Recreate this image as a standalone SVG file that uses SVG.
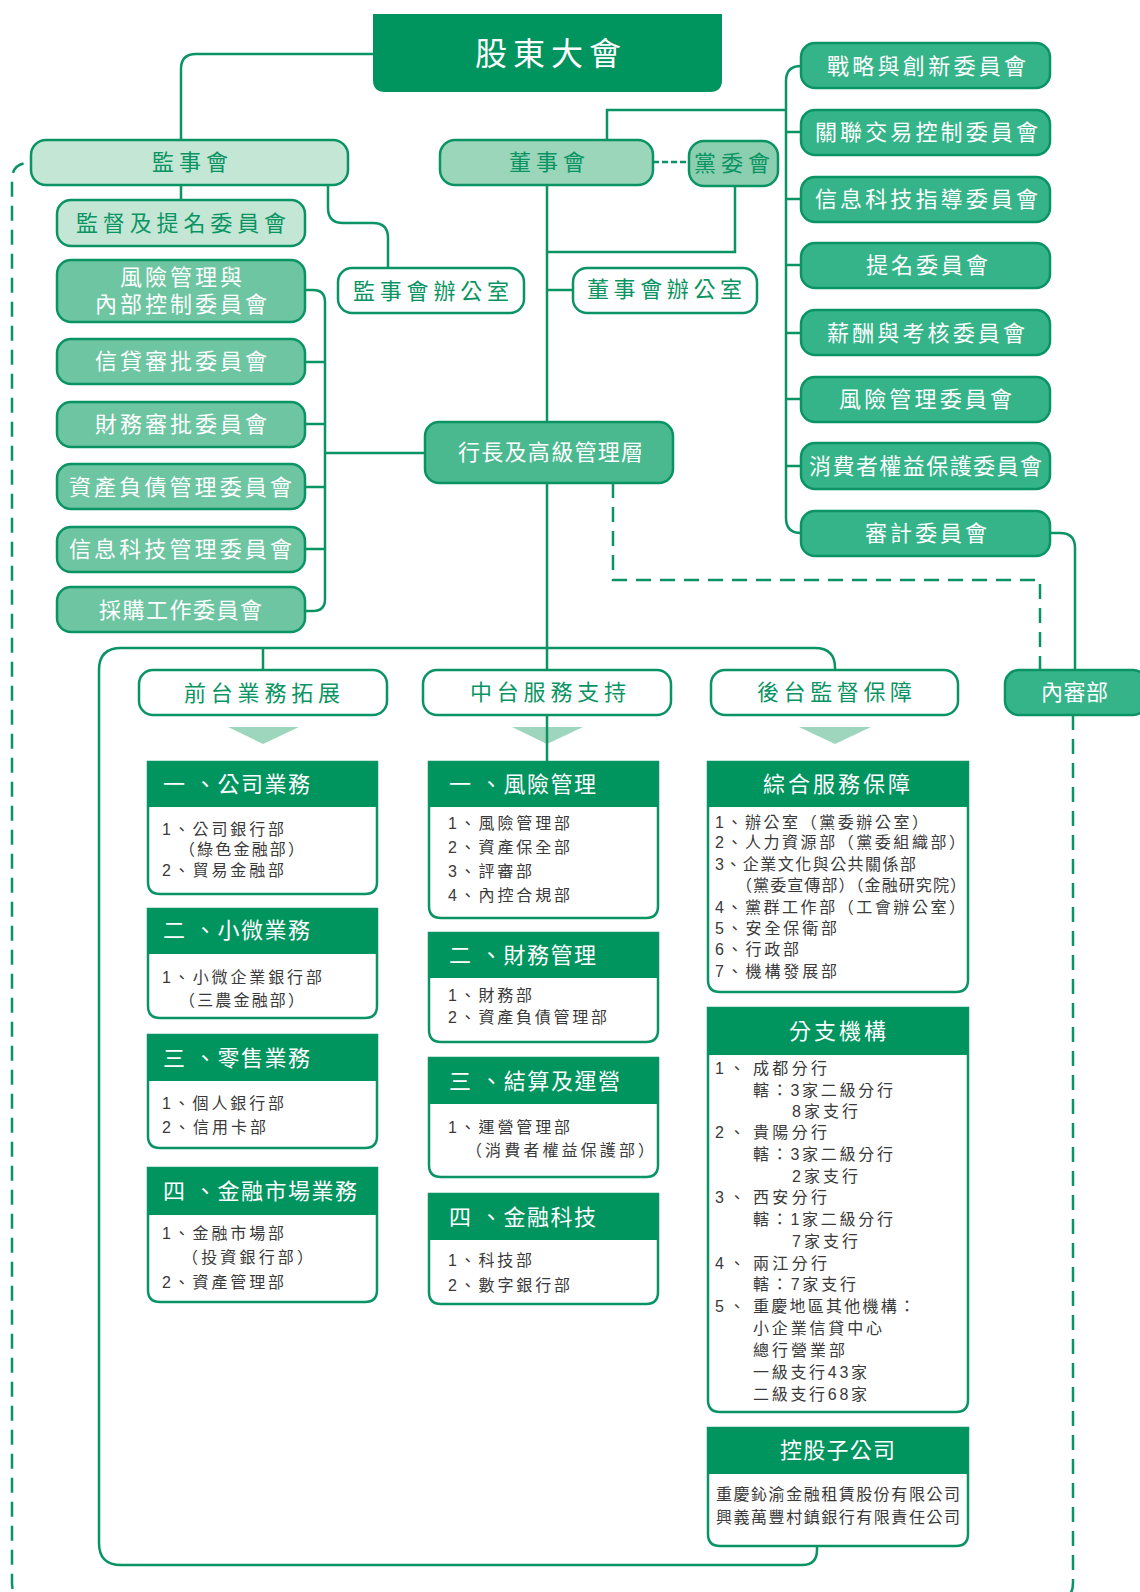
<svg xmlns="http://www.w3.org/2000/svg" width="1140" height="1592" viewBox="0 0 1140 1592">
<style>
text{font-family:'Liberation Sans','Noto Sans CJK TC',sans-serif;}
.ln{fill:none;stroke:#0a9463;stroke-width:2.5}
.dash{fill:none;stroke:#0a9463;stroke-width:2.5;stroke-dasharray:15 9}
.sdash{fill:none;stroke:#0a9463;stroke-width:2.5;stroke-dasharray:6 3}
.box{stroke:#0a9463;stroke-width:2.5}
.c1{fill:#c3e6d5}.c2{fill:#9bd5ba}.c3{fill:#8bcfb0}.c4{fill:#6dc5a2}.c5{fill:#4bb98f}.c6{fill:#35b489}.cw{fill:#fff}
.hd{fill:#00945f}
.tri{fill:#9dd6bd}
.tw{fill:#fff;font-size:22px}
.tg{fill:#0a9463;font-size:22px}
.b{fill:#3a3a3a;font-size:16px}
</style>

<!-- triangles -->
<g id="arrows">
<polygon class="tri" points="228,727 299,727 263,744"/>
<polygon class="tri" points="512,727 583,727 547,744"/>
<polygon class="tri" points="799,727 871,727 835,744"/>
</g>

<g id="connectors">
<path class="ln" d="M373,54 H196 Q181,54 181,69 V140"/>
<path class="ln" d="M181,185 V200"/>
<path class="ln" d="M328,185 V208 Q328,223 343,223 H373 Q388,223 388,238 V268"/>
<path class="ln" d="M607,140 V110 H786"/>
<path class="ln" d="M801,66 Q786,66 786,81 V518 Q786,533 801,533"/>
<path class="ln" d="M786,132 H801 M786,199 H801 M786,265 H801 M786,333 H801 M786,399 H801 M786,466 H801"/>
<path class="ln" d="M1050,533 H1060 Q1075,533 1075,548 V670"/>
<path class="sdash" d="M653,162 H689"/>
<path class="ln" d="M547,185 V422"/>
<path class="ln" d="M547,252 H735 V186"/>
<path class="ln" d="M547,290 H573"/>
<path class="ln" d="M305,290 H313 Q325,290 325,302 V599 Q325,611 313,611 H305"/>
<path class="ln" d="M305,362 H325 M305,424 H325 M305,487 H325 M305,549 H325"/>
<path class="ln" d="M325,453 H425"/>
<path class="ln" d="M547,483 V762"/>
<path class="ln" d="M817,1546 V1550 Q817,1565 802,1565 H121 Q99,1565 99,1543 V670 Q99,648 121,648 H815 Q835,648 835,668 V670"/>
<path class="ln" d="M263,648 V670"/>
<path class="dash" d="M613,483 V580 H1040 V670"/>
<path class="dash" d="M1073,715 V1583 Q1073,1600 1056,1600 H29 Q12,1600 12,1583 V180 Q12,163 29,163 H31"/>
</g>

<g id="n-gudong">
<path class="hd" d="M373,14 H722 V80 Q722,92 710,92 H385 Q373,92 373,80 Z"/>
<text x="475" y="64.5" fill="#fff" font-size="32" textLength="146">股東大會</text>
</g>
<g id="n-jianshihui">
<rect class="box c1" x="31" y="140" width="317" height="45" rx="15"/>
<text class="tg" x="152" y="170" textLength="76">監事會</text>
</g>
<g id="n-dongshihui">
<rect class="box c2" x="440" y="140" width="213" height="45" rx="15"/>
<text class="tg" x="509" y="170" textLength="76">董事會</text>
</g>
<g id="n-dangwei">
<rect class="box c3" x="689" y="141" width="89" height="45" rx="15"/>
<text class="tg" x="694" y="171" textLength="76">黨委會</text>
</g>
<g id="n-jiandu">
<rect class="box c1" x="57" y="200" width="248" height="46" rx="14"/>
<text class="tg" x="76" y="231" textLength="210">監督及提名委員會</text>
</g>
<g id="n-fengxian-nk">
<rect class="box c4" x="57" y="260" width="248" height="62" rx="14"/>
<text class="tw" x="120" y="285" textLength="122">風險管理與</text>
<text class="tw" x="95" y="312" textLength="172">內部控制委員會</text>
</g>
<g id="n-xindai">
<rect class="box c4" x="57" y="339" width="248" height="45" rx="14"/>
<text class="tw" x="95" y="369" textLength="172">信貸審批委員會</text>
</g>
<g id="n-caiwu">
<rect class="box c4" x="57" y="402" width="248" height="45" rx="14"/>
<text class="tw" x="95" y="432" textLength="172">財務審批委員會</text>
</g>
<g id="n-zichan">
<rect class="box c4" x="57" y="464" width="248" height="45" rx="14"/>
<text class="tw" x="69" y="495" textLength="223">資產負債管理委員會</text>
</g>
<g id="n-xinxi-gl">
<rect class="box c4" x="57" y="527" width="248" height="45" rx="14"/>
<text class="tw" x="69" y="557" textLength="223">信息科技管理委員會</text>
</g>
<g id="n-caigou">
<rect class="box c4" x="57" y="587" width="248" height="45" rx="14"/>
<text class="tw" x="99" y="618" textLength="163">採購工作委員會</text>
</g>
<g id="n-jsh-office">
<rect class="box cw" x="338" y="268" width="186" height="45" rx="14"/>
<text class="tg" x="353" y="299" textLength="156">監事會辦公室</text>
</g>
<g id="n-dsh-office">
<rect class="box cw" x="573" y="268" width="184" height="45" rx="14"/>
<text class="tg" x="587" y="297" textLength="155">董事會辦公室</text>
</g>
<g id="n-hangzhang">
<rect class="box c5" x="425" y="422" width="248" height="61" rx="14"/>
<text class="tw" x="458" y="460" textLength="185">行長及高級管理層</text>
</g>
<g id="n-zhanlue">
<rect class="box c6" x="801" y="43" width="249" height="45" rx="14"/>
<text class="tw" x="827" y="74" textLength="199">戰略與創新委員會</text>
</g>
<g id="n-guanlian">
<rect class="box c6" x="801" y="110" width="249" height="45" rx="14"/>
<text class="tw" x="815" y="140" textLength="223">關聯交易控制委員會</text>
</g>
<g id="n-xinxi-zd">
<rect class="box c6" x="801" y="177" width="249" height="45" rx="14"/>
<text class="tw" x="815" y="207" textLength="223">信息科技指導委員會</text>
</g>
<g id="n-timing">
<rect class="box c6" x="801" y="243" width="249" height="45" rx="14"/>
<text class="tw" x="866" y="273" textLength="122">提名委員會</text>
</g>
<g id="n-xinchou">
<rect class="box c6" x="801" y="310" width="249" height="45" rx="14"/>
<text class="tw" x="827" y="341" textLength="198">薪酬與考核委員會</text>
</g>
<g id="n-fengxian">
<rect class="box c6" x="801" y="377" width="249" height="45" rx="14"/>
<text class="tw" x="839" y="407" textLength="173">風險管理委員會</text>
</g>
<g id="n-xiaofei">
<rect class="box c6" x="801" y="443" width="249" height="46" rx="14"/>
<text class="tw" x="809" y="474" textLength="233">消費者權益保護委員會</text>
</g>
<g id="n-shenji">
<rect class="box c6" x="801" y="511" width="249" height="45" rx="14"/>
<text class="tw" x="865" y="541" textLength="122">審計委員會</text>
</g>
<g id="n-neishen">
<rect class="box c6" x="1005" y="670" width="142" height="45" rx="14"/>
<text class="tw" x="1041" y="700" textLength="67">內審部</text>
</g>

<g id="n-qiantai">
<rect class="box cw" x="139" y="670" width="248" height="45" rx="14"/>
<text class="tg" x="184" y="701" textLength="156">前台業務拓展</text>
</g>
<g id="n-zhongtai">
<rect class="box cw" x="423" y="670" width="248" height="45" rx="14"/>
<text class="tg" x="470" y="700" textLength="156">中台服務支持</text>
</g>
<g id="n-houtai">
<rect class="box cw" x="711" y="670" width="247" height="45" rx="14"/>
<text class="tg" x="757" y="700" textLength="155">後台監督保障</text>
</g>

<!-- front column -->
<g id="s-gongsi">
<path class="box cw" d="M148,762 H377 V882 Q377,894 365,894 H160 Q148,894 148,882 Z"/>
<rect class="hd" x="148" y="762" width="229" height="45"/>
<text class="tw" x="163" y="792" textLength="147">一 、公司業務</text>
<text class="b" x="162" y="835" textLength="122">1、公司銀行部</text>
<text class="b" x="179" y="855" textLength="125">（綠色金融部）</text>
<text class="b" x="162" y="876" textLength="122">2、貿易金融部</text>
</g>
<g id="s-xiaowei">
<path class="box cw" d="M148,909 H377 V1006 Q377,1018 365,1018 H160 Q148,1018 148,1006 Z"/>
<rect class="hd" x="148" y="909" width="229" height="45"/>
<text class="tw" x="163" y="938" textLength="147">二 、小微業務</text>
<text class="b" x="162" y="983" textLength="160">1、小微企業銀行部</text>
<text class="b" x="179" y="1006" textLength="125">（三農金融部）</text>
</g>
<g id="s-lingshou">
<path class="box cw" d="M148,1035 H377 V1136 Q377,1148 365,1148 H160 Q148,1148 148,1136 Z"/>
<rect class="hd" x="148" y="1035" width="229" height="46"/>
<text class="tw" x="163" y="1066" textLength="147">三 、零售業務</text>
<text class="b" x="162" y="1109" textLength="122">1、個人銀行部</text>
<text class="b" x="162" y="1133" textLength="104">2、信用卡部</text>
</g>
<g id="s-jinrong-sc">
<path class="box cw" d="M148,1168 H377 V1290 Q377,1302 365,1302 H160 Q148,1302 148,1290 Z"/>
<rect class="hd" x="148" y="1168" width="229" height="47"/>
<text class="tw" x="163" y="1199" textLength="194">四 、金融市場業務</text>
<text class="b" x="162" y="1239" textLength="122">1、金融市場部</text>
<text class="b" x="182" y="1263" textLength="131">（投資銀行部）</text>
<text class="b" x="162" y="1288" textLength="122">2、資產管理部</text>
</g>

<!-- middle column -->
<g id="s-fengxian">
<path class="box cw" d="M429,762 H658 V906 Q658,918 646,918 H441 Q429,918 429,906 Z"/>
<rect class="hd" x="429" y="762" width="229" height="45"/>
<text class="tw" x="449" y="792" textLength="147">一 、風險管理</text>
<text class="b" x="448" y="829" textLength="122">1、風險管理部</text>
<text class="b" x="448" y="853" textLength="122">2、資產保全部</text>
<text class="b" x="448" y="877" textLength="84">3、評審部</text>
<text class="b" x="448" y="901" textLength="122">4、內控合規部</text>
</g>
<g id="s-caiwu">
<path class="box cw" d="M429,933 H658 V1030 Q658,1042 646,1042 H441 Q429,1042 429,1030 Z"/>
<rect class="hd" x="429" y="933" width="229" height="45"/>
<text class="tw" x="449" y="963" textLength="147">二 、財務管理</text>
<text class="b" x="448" y="1001" textLength="84">1、財務部</text>
<text class="b" x="448" y="1023" textLength="159">2、資產負債管理部</text>
</g>
<g id="s-jiesuan">
<path class="box cw" d="M429,1058 H658 V1165 Q658,1177 646,1177 H441 Q429,1177 429,1165 Z"/>
<rect class="hd" x="429" y="1058" width="229" height="46"/>
<text class="tw" x="449" y="1089" textLength="171">三 、結算及運營</text>
<text class="b" x="448" y="1133" textLength="122">1、運營管理部</text>
<text class="b" x="466" y="1156" textLength="188">（消費者權益保護部）</text>
</g>
<g id="s-keji">
<path class="box cw" d="M429,1194 H658 V1292 Q658,1304 646,1304 H441 Q429,1304 429,1292 Z"/>
<rect class="hd" x="429" y="1194" width="229" height="46"/>
<text class="tw" x="449" y="1225" textLength="147">四 、金融科技</text>
<text class="b" x="448" y="1266" textLength="84">1、科技部</text>
<text class="b" x="448" y="1291" textLength="122">2、數字銀行部</text>
</g>

<!-- back column -->
<g id="s-zonghe">
<path class="box cw" d="M708,762 H968 V980 Q968,992 956,992 H720 Q708,992 708,980 Z"/>
<rect class="hd" x="708" y="762" width="260" height="45"/>
<text class="tw" x="763" y="792" textLength="147">綜合服務保障</text>
<text class="b" x="715" y="828" textLength="213">1、辦公室（黨委辦公室）</text>
<text class="b" x="715" y="848" textLength="250">2、人力資源部（黨委組織部）</text>
<text class="b" x="715" y="870" textLength="201">3、企業文化與公共關係部</text>
<text class="b" x="736" y="891" textLength="230">（黨委宣傳部）（金融研究院）</text>
<text class="b" x="715" y="913" textLength="250">4、黨群工作部（工會辦公室）</text>
<text class="b" x="715" y="934" textLength="122">5、安全保衛部</text>
<text class="b" x="715" y="955" textLength="84">6、行政部</text>
<text class="b" x="715" y="977" textLength="122">7、機構發展部</text>
</g>
<g id="s-fenzhi">
<path class="box cw" d="M708,1008 H968 V1400 Q968,1412 956,1412 H720 Q708,1412 708,1400 Z"/>
<rect class="hd" x="708" y="1008" width="260" height="47"/>
<text class="tw" x="789" y="1039" textLength="97">分支機構</text>
<text class="b" x="715" y="1074" textLength="30">1、</text>
<text class="b" x="753" y="1074" textLength="74">成都分行</text>
<text class="b" x="753" y="1096" textLength="140">轄：3家二級分行</text>
<text class="b" x="792" y="1117" textLength="66">8家支行</text>
<text class="b" x="715" y="1138" textLength="30">2、</text>
<text class="b" x="753" y="1138" textLength="74">貴陽分行</text>
<text class="b" x="753" y="1160" textLength="140">轄：3家二級分行</text>
<text class="b" x="792" y="1182" textLength="66">2家支行</text>
<text class="b" x="715" y="1203" textLength="30">3、</text>
<text class="b" x="753" y="1203" textLength="74">西安分行</text>
<text class="b" x="753" y="1225" textLength="140">轄：1家二級分行</text>
<text class="b" x="792" y="1247" textLength="66">7家支行</text>
<text class="b" x="715" y="1269" textLength="30">4、</text>
<text class="b" x="753" y="1269" textLength="74">兩江分行</text>
<text class="b" x="753" y="1290" textLength="103">轄：7家支行</text>
<text class="b" x="715" y="1312" textLength="30">5、</text>
<text class="b" x="753" y="1312" textLength="162">重慶地區其他機構：</text>
<text class="b" x="753" y="1334" textLength="129">小企業信貸中心</text>
<text class="b" x="753" y="1356" textLength="92">總行營業部</text>
<text class="b" x="753" y="1378" textLength="114">一級支行43家</text>
<text class="b" x="753" y="1400" textLength="114">二級支行68家</text>
</g>
<g id="s-konggu">
<path class="box cw" d="M708,1428 H968 V1534 Q968,1546 956,1546 H720 Q708,1546 708,1534 Z"/>
<rect class="hd" x="708" y="1428" width="260" height="46"/>
<text class="tw" x="780" y="1458" textLength="115">控股子公司</text>
<text class="b" x="716" y="1500" textLength="244">重慶鈊渝金融租賃股份有限公司</text>
<text class="b" x="716" y="1523" textLength="244">興義萬豐村鎮銀行有限責任公司</text>
</g>
</svg>
